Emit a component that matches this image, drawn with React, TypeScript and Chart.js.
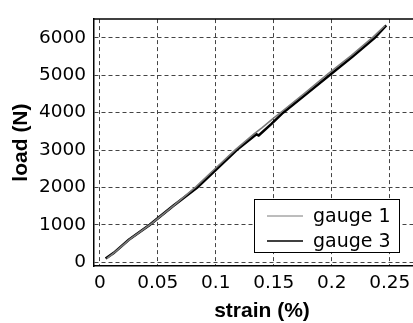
import React, { useEffect, useRef } from "react";
import { Chart, registerables } from "chart.js";

Chart.register(...registerables);

const seriesLabels = ["gauge 1", "gauge 3"];

const gauge1Strain = [0.006, 0.013, 0.026, 0.044, 0.064, 0.083, 0.1, 0.117, 0.133, 0.14, 0.149, 0.157, 0.177, 0.197, 0.217, 0.236, 0.246];
const gauge1Load = [100, 270, 620, 1020, 1520, 2020, 2520, 3010, 3430, 3600, 3830, 4030, 4530, 5040, 5530, 6030, 6330];

const gauge3Strain = [0.005, 0.012, 0.025, 0.043, 0.063, 0.084, 0.101, 0.118, 0.135, 0.137, 0.148, 0.158, 0.178, 0.198, 0.218, 0.237, 0.247];
const gauge3Load = [100, 250, 600, 1000, 1500, 2000, 2500, 3000, 3420, 3390, 3700, 4000, 4500, 5000, 5500, 6000, 6330];

const xTicks = [0, 0.05, 0.1, 0.15, 0.2, 0.25];
const yTicks = [0, 1000, 2000, 3000, 4000, 5000, 6000];

const xTitle = "strain (%)";
const yTitle = "load (N)";

const FONT = "'DejaVu Sans', sans-serif";
const TFONT = "'Liberation Sans', Arial, Helvetica, sans-serif";

export default function App() {
  const ref = useRef<HTMLCanvasElement | null>(null);

  useEffect(() => {
    if (!ref.current) return;

    const framePlugin = {
      id: "frame",
      afterDatasetsDraw(chart: any) {
        const { ctx, chartArea } = chart;
        ctx.save();
        ctx.strokeStyle = "#000";
        ctx.lineWidth = 1.5;
        ctx.beginPath();
        ctx.moveTo(chartArea.left, chartArea.top);
        ctx.lineTo(chartArea.right, chartArea.top);
        ctx.stroke();
        // legend box
        const bx = 254, by = 199, bw = 145, bh = 53;
        ctx.fillStyle = "#fff";
        ctx.fillRect(bx, by, bw, bh);
        ctx.lineWidth = 1;
        ctx.strokeStyle = "#000";
        ctx.strokeRect(bx + 0.5, by + 0.5, bw, bh);
        const ds = chart.data.datasets;
        const rows = [216, 241];
        ds.forEach((d: any, i: number) => {
          ctx.strokeStyle = d.borderColor;
          ctx.lineWidth = i === 0 ? 1 : 1.5;
          ctx.beginPath();
          ctx.moveTo(267, rows[i]);
          ctx.lineTo(303, rows[i]);
          ctx.stroke();
          ctx.fillStyle = "#000";
          ctx.font = `19px ${FONT}`;
          ctx.textBaseline = "middle";
          ctx.textAlign = "left";
          ctx.fillText(d.label, 313, rows[i] + 1);
        });
        ctx.restore();
      },
    };

    const chart = new Chart(ref.current, {
      type: "scatter",
      data: {
        datasets: [
          {
            label: seriesLabels[0],
            data: gauge1Strain.map((x, i) => ({ x, y: gauge1Load[i] })),
            showLine: true,
            borderColor: "#7a7a7a",
            borderWidth: 1.6,
            pointRadius: 0,
            fill: false,
          },
          {
            label: seriesLabels[1],
            data: gauge3Strain.map((x, i) => ({ x, y: gauge3Load[i] })),
            showLine: true,
            borderColor: "#000000",
            borderWidth: 2.6,
            pointRadius: 0,
            fill: false,
          },
        ],
      },
      options: {
        animation: false,
        responsive: false,
        maintainAspectRatio: false,
        layout: { padding: { top: 15, right: 0, left: 0, bottom: 0 } },
        plugins: { legend: { display: false }, tooltip: { enabled: false } },
        scales: {
          x: {
            type: "linear",
            min: -0.005,
            max: 0.2847,
            afterBuildTicks: (s: any) => {
              s.ticks = xTicks.map((v) => ({ value: v }));
            },
            afterFit: (s: any) => {
              s.height = 57;
            },
            ticks: {
              color: "#000",
              font: { family: FONT, size: 18.5 },
              padding: 6,
              maxRotation: 0,
              autoSkip: false,
              callback: (v: any) => String(Number(v)),
            },
            grid: { color: "#444", lineWidth: 1, drawTicks: false },
            border: { color: "#000", width: 1.5, dash: [4, 3] },
            title: {
              display: true,
              text: xTitle,
              color: "#000",
              font: { family: TFONT, size: 21, weight: "bold", lineHeight: 1 },
              padding: { top: 0, bottom: 1 },
            },
          },
          y: {
            type: "linear",
            min: -100,
            max: 6500,
            afterBuildTicks: (s: any) => {
              s.ticks = yTicks.map((v) => ({ value: v }));
            },
            afterFit: (s: any) => {
              s.width = 94;
            },
            ticks: {
              color: "#000",
              font: { family: FONT, size: 18.5 },
              padding: 8,
              autoSkip: false,
              callback: (v: any) => String(v),
            },
            grid: { color: "#444", lineWidth: 1, drawTicks: false },
            border: { color: "#000", width: 1.5, dash: [4, 3] },
            title: {
              display: true,
              text: yTitle,
              color: "#000",
              font: { family: TFONT, size: 21, weight: "bold", lineHeight: 1 },
              padding: { top: 11, bottom: 0 },
            },
          },
        },
      },
      plugins: [framePlugin],
    } as any);

    return () => chart.destroy();
  }, []);

  return (
    <div style={{ position: "absolute", left: 0, top: 0, width: 430, height: 323, overflow: "hidden" }}>
      <canvas ref={ref} width={430} height={323} style={{ display: "block" }} />
    </div>
  );
}
